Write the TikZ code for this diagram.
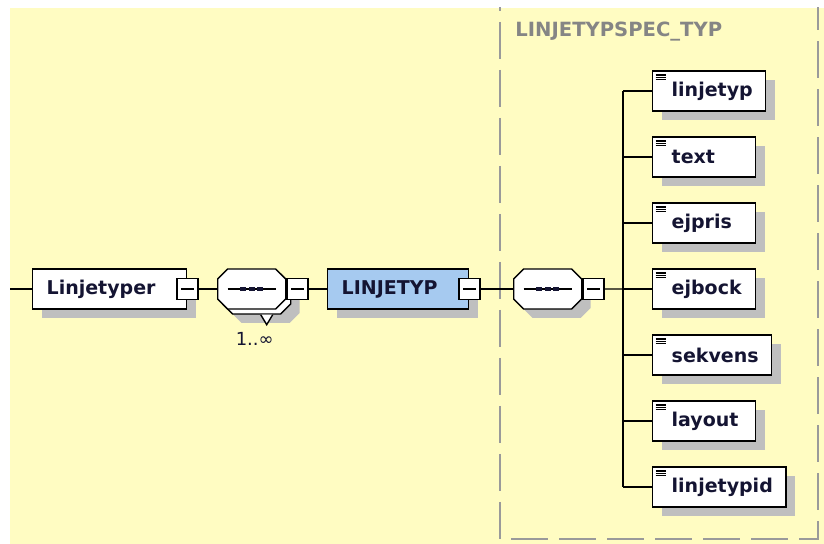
\documentclass[tikz,border=0pt]{standalone}
\usepackage{fontspec}
\setmainfont{DejaVu Sans}
\usetikzlibrary{
  positioning,
  shapes.misc,
  shadows
}
\definecolor{xsBack}{HTML}{FFFCC2}
\definecolor{xsElem}{HTML}{A6CAF0}
\definecolor{xsShade}{HTML}{BFBFBF}
\definecolor{xsFrame}{HTML}{9A9A9A}
\definecolor{xsTitle}{HTML}{858585}
\definecolor{xsText}{HTML}{141432}
% leaf label, left aligned in a box of at least the smallest width
\newcommand{\xsleaf}[1]{\setbox0=\hbox{#1}\ifdim\wd0<35.5pt\wd0=35.5pt\fi\box0}
\tikzset{
  xsshadow/.style={drop shadow={shadow xshift=4.5pt, shadow yshift=-4.5pt, fill=xsShade, opacity=1}},
  xsnode/.style={
    draw, line width=.7pt, fill=white, minimum height=20pt, text=xsText,
    font=\fontsize{9.5}{11}\selectfont\bfseries
  },
  elem/.style={xsnode, xsshadow, inner xsep=7pt, align=left},
  leaf/.style={
    xsnode, xsshadow, anchor=west, inner xsep=6.5pt,
    execute at begin node={\hspace{3pt}},
    path picture={
      \foreach \k in {2,3.2,4.4}
        \draw[line width=.55pt] ([xshift=1.5pt, yshift=-\k pt]path picture bounding box.north west) -- ++(5pt,0pt);
    }
  },
  seq/.style={
    draw, line width=.7pt, fill=white, shape=chamfered rectangle,
    chamfered rectangle xsep=2.5pt, chamfered rectangle ysep=2.5pt,
    inner xsep=14.5pt, inner ysep=7.5pt
  },
  collapse/.style={
    draw, line width=.7pt, fill=white, minimum size=10.5pt, inner sep=0pt,
    path picture={
      \draw[line width=.75pt] ([xshift=-3.25pt]path picture bounding box.center) -- ([xshift=3.25pt]path picture bounding box.center);
    }
  },
  conn/.style={line width=.7pt},
  occ/.style={font=\fontsize{9}{10}\selectfont, text=xsText, inner sep=0pt},
  spectitle/.style={font=\fontsize{9.8}{11}\selectfont\bfseries, text=xsTitle, inner sep=0pt, anchor=base west},
  specframe/.style={draw=xsFrame, line width=.7pt, dash pattern=on 18.5pt off 5.5pt}
}
\begin{document}
\begin{tikzpicture}[x=0.5pt, y=-0.5pt]
  \useasboundingbox (0,0) rectangle (824,544);
  \fill[xsBack] (10,8) rectangle (824,544);
  % complex type frame
  \begin{scope}
    \clip (10,8) rectangle (824,544);
    \draw[specframe] (500,-26) -- (500,539) -- (818,539) -- (818,-26);
  \end{scope}
  \node[spectitle] (spec) at (515,37) {LINJETYPSPEC\_TYP};

  % main row
  \node[elem, text width=63pt, anchor=west] (Linjetyper) at (32,289) {Linjetyper};
  \node[seq, xsshadow, right=17.3pt of Linjetyper, yshift=-2.5pt] (seqA-back) {};
  \draw[conn, fill=white] ([xshift=2pt]seqA-back.south) -- ++(3pt,-5pt) -- ++(3pt,5pt);
  \node[occ, below=8.5pt of seqA-back, xshift=-1pt] (seqA-occ) {1..∞};
  \node[seq, right=14.8pt of Linjetyper] (seqA) {};
  \node[collapse] (Linjetyper-m) at (Linjetyper.east) {};
  \node[collapse, right=0pt of seqA] (seqA-m) {};
  \node[elem, fill=xsElem, text width=56.5pt, right=20.3pt of seqA] (LINJETYP) {LINJETYP};
  \node[collapse] (LINJETYP-m) at (LINJETYP.east) {};
  \node[seq, xsshadow, right=21.8pt of LINJETYP] (seqB) {};
  \node[collapse, right=0pt of seqB] (seqB-m) {};
  \foreach \s in {seqA,seqB}{
    \draw[conn] ([xshift=-12pt]\s.center) -- ([xshift=12pt]\s.center);
    \foreach \d in {-4.25pt,0pt,4.25pt}
      \fill[xsText] ([xshift=\d-1.5pt, yshift=-1.2pt]\s.center) rectangle ([xshift=\d+1.5pt, yshift=1.2pt]\s.center);
  }

  % children
  \node[leaf] (linjetyp) at (652,91) {\xsleaf{linjetyp}};
  \node[leaf, below=12.3pt of linjetyp.south west, anchor=north west] (text) {\xsleaf{text}};
  \node[leaf, below=12.3pt of text.south west, anchor=north west] (ejpris) {\xsleaf{ejpris}};
  \node[leaf, below=12.3pt of ejpris.south west, anchor=north west] (ejbock) {\xsleaf{ejbock}};
  \node[leaf, below=12.3pt of ejbock.south west, anchor=north west] (sekvens) {\xsleaf{sekvens}};
  \node[leaf, below=12.3pt of sekvens.south west, anchor=north west] (layout) {\xsleaf{layout}};
  \node[leaf, below=12.3pt of layout.south west, anchor=north west] (linjetypid) {\xsleaf{linjetypid}};

  % connectors
  \coordinate[left=11pt of Linjetyper] (root);
  \coordinate (bus) at ([xshift=-14.5pt]ejbock.west);
  \draw[conn] (root) -- (Linjetyper);
  \draw[conn] (Linjetyper-m) -- (seqA);
  \draw[conn] (seqA-m) -- (LINJETYP);
  \draw[conn] (LINJETYP-m) -- (seqB);
  \draw[conn] (seqB-m) -- (bus);
  \draw[conn] (bus |- linjetyp.west) -- (bus |- linjetypid.west);
  \foreach \c in {linjetyp,text,ejpris,ejbock,sekvens,layout,linjetypid}
    \draw[conn] (bus |- \c.west) -- (\c);
\end{tikzpicture}
\end{document}
